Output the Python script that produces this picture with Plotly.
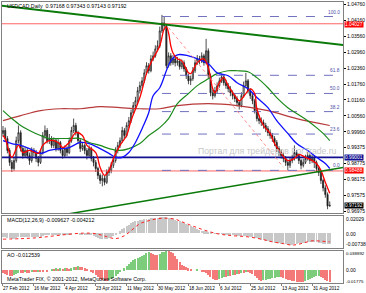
import plotly.graph_objects as go

# ---------------- data ----------------
date_labels = ["27 Feb 2012", "16 Mar 2012", "4 Apr 2012", "23 Apr 2012", "11 May 2012",
               "30 May 2012", "18 Jun 2012", "6 Jul 2012", "25 Jul 2012", "13 Aug 2012", "31 Aug 2012"]

closes = [1.0001,0.9971,0.9926,0.9881,0.9858,0.9888,0.9963,0.9993,0.9933,0.9907,
          0.9926,0.9907,0.9888,0.9926,0.9918,0.9896,0.9881,0.9918,0.9982,1.0001,
          0.9963,0.9971,0.9945,0.9963,0.9933,0.9956,0.9926,0.9907,0.9933,0.9918,
          0.9963,1.0001,1.0020,0.9993,0.9963,0.9933,0.9945,0.9926,0.9907,0.9933,
          0.9896,0.9881,0.9858,0.9832,0.9813,0.9821,0.9806,0.9843,0.9851,0.9870,
          0.9888,0.9926,0.9945,0.9963,1.0001,0.9982,1.0020,1.0038,1.0068,1.0095,
          1.0113,1.0151,1.0170,1.0188,1.0218,1.0245,1.0226,1.0271,1.0282,1.0308,
          1.0320,1.0376,1.0406,1.0395,1.0245,1.0282,1.0256,1.0271,1.0256,1.0263,
          1.0241,1.0256,1.0233,1.0207,1.0188,1.0196,1.0226,1.0256,1.0271,1.0263,
          1.0282,1.0256,1.0301,1.0207,1.0143,1.0132,1.0151,1.0170,1.0188,1.0203,
          1.0181,1.0170,1.0158,1.0143,1.0132,1.0121,1.0106,1.0095,1.0132,1.0170,
          1.0188,1.0151,1.0132,1.0113,1.0076,1.0046,1.0038,1.0031,1.0020,1.0008,
          0.9993,0.9982,0.9971,0.9956,0.9933,0.9918,0.9907,0.9896,0.9881,0.9870,
          0.9888,0.9896,0.9918,0.9907,0.9888,0.9870,0.9881,0.9896,0.9907,0.9888,
          0.9896,0.9881,0.9858,0.9843,0.9813,0.9785,0.9760,0.9717,0.97192]

opens = [0.9990,1.0001,0.9971,0.9926,0.9881,0.9858,0.9888,0.9963,0.9993,0.9933,
         0.9907,0.9926,0.9907,0.9888,0.9926,0.9918,0.9896,0.9881,0.9918,0.9982,
         1.0001,0.9963,0.9971,0.9945,0.9963,0.9933,0.9956,0.9926,0.9907,0.9933,
         0.9918,0.9963,1.0001,1.0020,0.9993,0.9963,0.9933,0.9945,0.9926,0.9907,
         0.9933,0.9896,0.9881,0.9858,0.9832,0.9813,0.9821,0.9806,0.9843,0.9851,
         0.9870,0.9888,0.9926,0.9945,0.9963,1.0001,0.9982,1.0020,1.0038,1.0068,
         1.0095,1.0113,1.0151,1.0170,1.0188,1.0218,1.0245,1.0226,1.0271,1.0282,
         1.0308,1.0320,1.0376,1.0406,1.0395,1.0245,1.0282,1.0256,1.0271,1.0256,
         1.0263,1.0241,1.0256,1.0233,1.0207,1.0188,1.0196,1.0226,1.0256,1.0271,
         1.0263,1.0282,1.0256,1.0301,1.0207,1.0143,1.0132,1.0151,1.0170,1.0188,
         1.0203,1.0181,1.0170,1.0158,1.0143,1.0132,1.0121,1.0106,1.0095,1.0132,
         1.0170,1.0188,1.0151,1.0132,1.0113,1.0076,1.0046,1.0038,1.0031,1.0020,
         1.0008,0.9993,0.9982,0.9971,0.9956,0.9933,0.9918,0.9907,0.9896,0.9881,
         0.9870,0.9888,0.9896,0.9918,0.9907,0.9888,0.9870,0.9881,0.9896,0.9907,
         0.9888,0.9896,0.9881,0.9858,0.9843,0.9813,0.9785,0.9760,0.97168]

highs = [1.0018,1.0012,0.9980,0.9935,0.9890,0.9900,0.9978,1.0020,1.0002,0.9945,
         0.9940,0.9935,0.9918,0.9938,0.9935,0.9928,0.9905,0.9930,0.9995,1.0020,
         1.0010,0.9988,0.9980,0.9975,0.9970,0.9968,0.9962,0.9935,0.9945,0.9942,
         0.9975,1.0015,1.0046,1.0030,1.0000,0.9970,0.9958,0.9952,0.9935,0.9945,
         0.9940,0.9905,0.9890,0.9865,0.9840,0.9835,0.9830,0.9855,0.9865,0.9882,
         0.9900,0.9938,0.9958,0.9975,1.0015,1.0010,1.0032,1.0052,1.0080,1.0108,
         1.0128,1.0165,1.0185,1.0202,1.0232,1.0258,1.0255,1.0285,1.0298,1.0322,
         1.0340,1.0392,1.0436,1.0428,1.0400,1.0295,1.0292,1.0285,1.0280,1.0278,
         1.0272,1.0268,1.0265,1.0240,1.0215,1.0208,1.0240,1.0268,1.0285,1.0282,
         1.0295,1.0290,1.0346,1.0310,1.0215,1.0155,1.0165,1.0182,1.0200,1.0215,
         1.0210,1.0192,1.0180,1.0168,1.0152,1.0142,1.0130,1.0115,1.0145,1.0185,
         1.0218,1.0195,1.0160,1.0140,1.0120,1.0085,1.0058,1.0050,1.0042,1.0030,
         1.0018,1.0005,0.9992,0.9980,0.9965,0.9942,0.9930,0.9918,0.9905,0.9892,
         0.9900,0.9910,0.9945,0.9928,0.9915,0.9895,0.9895,0.9910,0.9920,0.9915,
         0.9910,0.9907,0.9888,0.9865,0.9850,0.9820,0.9795,0.9768,0.97343]

lows = [0.9978,0.9958,0.9915,0.9868,0.9845,0.9850,0.9880,0.9952,0.9922,0.9895,
        0.9898,0.9895,0.9872,0.9880,0.9905,0.9882,0.9866,0.9875,0.9910,0.9970,
        0.9952,0.9950,0.9935,0.9935,0.9922,0.9925,0.9915,0.9895,0.9900,0.9905,
        0.9912,0.9955,0.9992,0.9982,0.9950,0.9920,0.9925,0.9912,0.9892,0.9898,
        0.9885,0.9866,0.9845,0.9818,0.9800,0.9791,0.9795,0.9800,0.9830,0.9840,
        0.9860,0.9880,0.9915,0.9935,0.9955,0.9970,0.9975,1.0010,1.0030,1.0060,
        1.0085,1.0105,1.0140,1.0160,1.0180,1.0210,1.0215,1.0220,1.0262,1.0275,
        1.0298,1.0312,1.0368,1.0380,1.0235,1.0238,1.0245,1.0248,1.0242,1.0245,
        1.0230,1.0232,1.0222,1.0195,1.0175,1.0172,1.0188,1.0218,1.0248,1.0250,
        1.0255,1.0245,1.0250,1.0198,1.0130,1.0118,1.0125,1.0142,1.0162,1.0180,
        1.0170,1.0158,1.0145,1.0130,1.0118,1.0108,1.0092,1.0080,1.0088,1.0125,
        1.0160,1.0140,1.0120,1.0100,1.0065,1.0035,1.0025,1.0018,1.0008,0.9995,
        0.9980,0.9970,0.9958,0.9942,0.9920,0.9905,0.9895,0.9882,0.9868,0.9852,
        0.9860,0.9878,0.9888,0.9895,0.9875,0.9855,0.9862,0.9875,0.9888,0.9875,
        0.9878,0.9860,0.9845,0.9830,0.9800,0.9772,0.9748,0.9705,0.97143]

# moving averages sampled along the drawn curves (bar index, price)
fast_ma_bar = [0,1,4,7,9,12,16,18,21,25,27,30,33,36,38,42,44,46,48,50,53,56,58,62,65,67,
               71,73,74,75,76,77,79,81,84,85,88,91,93,95,96,98,100,102,105,107,110,112,114,
               115,118,121,123,126,129,132,134,137,140,142,144,146,148]
fast_ma_val = [0.9982,0.9971,0.9900,0.9945,0.9918,0.9926,0.9915,0.9945,0.9963,0.9956,0.9937,
               0.9956,0.9993,0.9982,0.9945,0.9918,0.9862,0.9832,0.9851,0.9896,0.9945,0.9982,
               1.0038,1.0125,1.0215,1.0256,1.0320,1.0383,1.0391,1.0368,1.0320,1.0293,1.0271,
               1.0263,1.0218,1.0215,1.0256,1.0271,1.0237,1.0158,1.0143,1.0181,1.0200,1.0170,
               1.0132,1.0113,1.0140,1.0158,1.0140,1.0083,1.0020,0.9990,0.9952,0.9915,0.9888,
               0.9896,0.9911,0.9900,0.9888,0.9877,0.9851,0.9806,0.9765]

mid_ma_bar = [0,4,8,12,17,21,26,30,35,39,44,48,51,54,57,60,63,66,68,71,74,76,79,84,88,93,97,
              102,106,111,115,120,124,129,133,138,142,146,148]
mid_ma_val = [0.9963,0.9952,0.9945,0.9933,0.9915,0.9926,0.9933,0.9937,0.9956,0.9952,0.9933,
              0.9915,0.9900,0.9900,0.9918,0.9956,1.0008,1.0068,1.0132,1.0162,1.0226,1.0263,
              1.0286,1.0282,1.0271,1.0252,1.0218,1.0207,1.0181,1.0158,1.0125,1.0087,1.0038,
              0.9990,0.9952,0.9926,0.9900,0.9877,0.9858]

slow_ma_bar = [0,4,8,12,17,21,26,30,35,39,44,48,53,57,62,66,71,75,79,84,88,93,97,102,106,111,
               115,120,124,129,133,138,142,145,148]
slow_ma_val = [1.0076,1.0046,1.0020,1.0001,0.9982,0.9971,0.9971,0.9971,0.9971,0.9956,0.9945,
               0.9933,0.9926,0.9933,0.9952,0.9982,1.0012,1.0046,1.0102,1.0140,1.0170,1.0196,
               1.0215,1.0226,1.0226,1.0222,1.0200,1.0162,1.0125,1.0087,1.0065,1.0038,1.0012,
               0.9990,0.9963]

long_ma_bar = [0,8,17,26,35,44,53,62,71,79,93,106,120,133,148]
long_ma_val = [1.0038,1.0057,1.0076,1.0083,1.0083,1.0091,1.0087,1.0083,1.0083,1.0095,1.0102,
               1.0095,1.0076,1.0046,1.0020]

macd_main = [-0.0036,-0.0036,-0.0045,-0.0045,-0.0054,-0.0054,-0.0045,-0.0036,-0.0036,-0.0036,
             -0.0036,-0.0036,-0.0036,-0.0036,-0.0036,-0.0036,-0.0036,-0.0036,-0.0027,-0.0018,
             -0.0018,-0.0018,-0.0018,-0.0018,-0.0018,-0.0018,-0.0018,-0.0018,-0.0018,-0.0018,
             -0.0009,-0.0009,0.0,0.0,0.0,-0.0009,-0.0009,-0.0009,-0.0009,-0.0018,
             -0.0018,-0.0027,-0.0036,-0.0045,-0.0054,-0.0054,-0.0054,-0.0054,-0.0045,-0.0036,
             -0.0027,-0.00135,0.0,0.0018,0.0036,0.00495,0.0063,0.00765,0.009,0.0099,
             0.0108,0.01125,0.0117,0.01215,0.0126,0.01305,0.01305,0.0135,0.0135,0.01395,
             0.01395,0.0144,0.0144,0.0144,0.0144,0.01395,0.0135,0.0126,0.0117,0.01125,
             0.0108,0.01035,0.00945,0.00855,0.00765,0.00675,0.00585,0.00495,0.00405,0.00315,
             0.00225,0.0018,0.0018,0.00135,0.00045,0.0,-0.00045,-0.00045,-0.00045,-0.00045,
             -0.0009,-0.0009,-0.00135,-0.00135,-0.0018,-0.0018,-0.00225,-0.0027,-0.0027,-0.0027,
             -0.0027,-0.0027,-0.00315,-0.0036,-0.00405,-0.0045,-0.00495,-0.00585,-0.0063,-0.00675,
             -0.0072,-0.00765,-0.0081,-0.00855,-0.009,-0.009,-0.00945,-0.0099,-0.0099,-0.01035,
             -0.01035,-0.01035,-0.0099,-0.00945,-0.009,-0.009,-0.00855,-0.00855,-0.0081,-0.0081,
             -0.0081,-0.0081,-0.0081,-0.00855,-0.009,-0.00945,-0.0099,-0.0099,-0.009627]

macd_signal_bar = [0,8,16,26,36,42,47,51,55,58,62,66,70,74,78,81,88,97,104,111,117,122,127,
                   131,135,140,144,148]
macd_signal_val = [-0.00495,-0.0045,-0.0036,-0.00135,0.00045,0.0,-0.0027,-0.0045,-0.0018,
                   0.0027,0.009,0.0117,0.0135,0.01395,0.01305,0.0108,0.0054,0.0,-0.0018,
                   -0.00288,-0.00495,-0.00738,-0.009,-0.01035,-0.009,-0.00648,-0.00675,-0.00738]

ao_values = [-0.00315,-0.0042,-0.00525,-0.0063,-0.0063,-0.00525,-0.0042,-0.00315,
             -0.00315,-0.00315,-0.0021,-0.00315,-0.00315,-0.0021,-0.0021,
             -0.0021,-0.00105,-0.00105,-0.00105,0.0,-0.00105,0.0,0.00105,
             0.00105,0.0021,0.00105,0.0021,0.00105,0.0021,0.0021,0.00105,0.0021,
             0.00315,0.00315,0.0042,0.00315,0.00315,0.0021,
             0.00105,0.0,-0.00105,-0.00315,-0.00525,-0.00735,
             -0.00945,-0.0105,-0.01155,-0.01155,-0.0105,-0.00945,-0.0084,
             -0.0063,-0.0042,-0.0021,0.0,0.0021,0.0042,
             0.0063,0.0084,0.0105,0.01155,0.0126,0.01365,0.0147,0.01575,
             0.01785,0.0189,0.01785,0.0168,0.01575,0.01575,0.0168,
             0.0189,0.01995,0.0205,0.0205,0.01995,
             0.01785,0.0147,0.01155,0.0084,0.00525,
             0.0042,0.00315,0.0021,0.00105,0.0,
             0.0,0.00105,0.0,-0.00105,-0.0021,-0.00315,
             -0.00525,-0.00735,-0.00945,-0.0105,-0.0105,-0.00945,-0.0084,-0.00735,
             -0.00735,-0.0063,-0.0063,-0.00525,-0.00525,-0.0042,-0.0042,-0.00315,-0.00315,-0.0021,-0.0021,-0.00315,
             -0.0042,-0.0063,-0.0084,-0.0105,-0.01155,
             -0.011,-0.0105,-0.01,-0.00945,-0.0089,-0.0084,-0.0079,-0.00735,
             -0.0079,-0.0084,-0.00945,-0.0105,-0.011,-0.01155,-0.0121,-0.0126,-0.0128,-0.013,-0.0131,
             -0.01155,-0.0105,-0.00945,-0.0084,-0.00735,-0.0063,-0.0058,
             -0.00735,-0.0089,-0.0105,-0.01155,-0.012539]

price_ticks = [1.04760, 1.04160, 1.03560, 1.02960, 1.02360, 1.01760, 1.01160, 1.00560,
               0.99960, 0.99375, 0.98775, 0.98175, 0.97575, 0.96975]
price_tick_text = ["1.04760", "1.04160", "1.03560", "1.02960", "1.02360", "1.01760", "1.01160",
                   "1.00560", "0.99960", "0.99375", "0.98775", "0.98175", "0.97575", "0.96975"]

resist_line = 1.04027
support_line = 0.99001
lower_line = 0.98488
last_price = 0.97192
fib_high = 1.0430
fib_low = 0.9851
fib_ratios = [1.0, 0.618, 0.5, 0.382, 0.236, 0.0]
fib_labels = ["100.0", "61.8", "50.0", "38.2", "23.6", "0.0"]
fib_bars = [72, 151]
trend_upper_bars, trend_upper_vals = [-1, 155], [1.0471, 1.0322]
trend_lower_bars, trend_lower_vals = [28, 155], [0.9685, 0.9863]
trend_dot_bars, trend_dot_vals = [75, 127], [1.0388, 0.9863]

macd_axis_labels = ["0.02029", "0.00", "-0.00738"]
ao_axis_labels = ["0.038892", "0.00", "-0.01775"]

# ---------------- figure ----------------
FONT = "Liberation Sans, Arial, sans-serif"
n = len(closes)
bars = list(range(n))
xr = [-0.45, 154.0]

fig = go.Figure()

# horizontal levels
fig.add_trace(go.Scatter(x=xr, y=[resist_line] * 2, mode="lines",
                         line=dict(color="#ff3b3b", width=0.8), hoverinfo="skip"))
fig.add_trace(go.Scatter(x=xr, y=[lower_line] * 2, mode="lines",
                         line=dict(color="#ff3b3b", width=0.8), hoverinfo="skip"))
fig.add_trace(go.Scatter(x=xr, y=[support_line] * 2, mode="lines",
                         line=dict(color="#101090", width=1.8), hoverinfo="skip"))

# fibonacci levels
for r in fib_ratios:
    lv = fib_low + r * (fib_high - fib_low)
    fig.add_trace(go.Scatter(x=fib_bars, y=[lv, lv], mode="lines",
                             line=dict(color="#7070c0", width=1, dash="dash"), hoverinfo="skip"))

# moving averages
fig.add_trace(go.Scatter(x=long_ma_bar, y=long_ma_val, mode="lines", line_shape="spline",
                         line=dict(color="#b83a3a", width=1.2)))
fig.add_trace(go.Scatter(x=slow_ma_bar, y=slow_ma_val, mode="lines", line_shape="spline",
                         line=dict(color="#1a8a1a", width=1.2)))

# candles
fig.add_trace(go.Candlestick(x=bars, open=opens, high=highs, low=lows, close=closes,
                             increasing=dict(fillcolor="#ffffff", line=dict(color="#202020", width=0.8)),
                             decreasing=dict(fillcolor="#202020", line=dict(color="#202020", width=0.8)),
                             whiskerwidth=0, showlegend=False))

fig.add_trace(go.Scatter(x=mid_ma_bar, y=mid_ma_val, mode="lines", line_shape="spline",
                         line=dict(color="#1010ff", width=1.3)))
fig.add_trace(go.Scatter(x=fast_ma_bar, y=fast_ma_val, mode="lines", line_shape="spline",
                         line=dict(color="#ff0000", width=1.3)))

# trend lines
fig.add_trace(go.Scatter(x=trend_upper_bars, y=trend_upper_vals, mode="lines",
                         line=dict(color="#0a7a0a", width=2)))
fig.add_trace(go.Scatter(x=trend_lower_bars, y=trend_lower_vals, mode="lines",
                         line=dict(color="#0a7a0a", width=1.6)))
fig.add_trace(go.Scatter(x=trend_dot_bars, y=trend_dot_vals, mode="lines",
                         line=dict(color="#ff8a8a", width=1, dash="dot")))

# MACD
fig.add_trace(go.Bar(x=bars, y=macd_main, marker_color="#c8c8c8", marker_line_width=0,
                     width=0.45, xaxis="x2", yaxis="y2"))
fig.add_trace(go.Scatter(x=macd_signal_bar, y=macd_signal_val, mode="lines", line_shape="spline",
                         line=dict(color="#ff2020", width=1, dash="dot"), xaxis="x2", yaxis="y2"))

# AO
ao_colors = ["#7ccc7c" if (i > 0 and ao_values[i] > ao_values[i - 1]) else "#f47a7a"
             for i in range(n)]
fig.add_trace(go.Bar(x=bars, y=ao_values, marker_color=ao_colors, marker_line_width=0,
                     width=0.5, xaxis="x3", yaxis="y3"))

# ---------------- layout ----------------
W, H = 366, 293
ml, mr, mt, mb = 1, 19, 1, 10
ph = H - mt - mb


def py(px):
    return (H - mb - px) / ph


axis_line = dict(showline=True, linecolor="#808080", linewidth=1, mirror=True,
                 showgrid=False, zeroline=False)

fig.update_layout(
    width=W, height=H, margin=dict(l=ml, r=mr, t=mt, b=mb),
    paper_bgcolor="white", plot_bgcolor="white", showlegend=False,
    bargap=0,
    font=dict(family=FONT, size=6, color="black"),
    xaxis=dict(range=xr, domain=[0, 1], anchor="y", showticklabels=False,
               rangeslider=dict(visible=False), **axis_line),
    xaxis2=dict(range=xr, domain=[0, 1], anchor="y2", showticklabels=False, matches="x", **axis_line),
    xaxis3=dict(range=xr, domain=[0, 1], anchor="y3", showticklabels=False, matches="x",
                ticks="outside", ticklen=2, tickcolor="#808080",
                tickvals=list(range(0, n, 14)), **axis_line),
    yaxis=dict(domain=[py(213), py(1)], range=[0.968965, 1.048465], side="right", anchor="x",
               tickvals=price_ticks, ticktext=price_tick_text, ticks="outside", ticklen=2,
               tickcolor="black", tickfont=dict(size=5, family=FONT), **axis_line),
    yaxis2=dict(domain=[py(248), py(216)], range=[-0.01305, 0.01575], side="right", anchor="x2",
                showticklabels=False, **axis_line),
    yaxis3=dict(domain=[py(283), py(251)], range=[-0.0137, 0.0205], side="right", anchor="x3",
                showticklabels=False, **axis_line),
)

ann = []
ann.append(dict(text="USDCAD,Daily  0.97168 0.97343 0.97143 0.97192", xref="paper", yref="paper",
                x=0.008, y=py(5), xanchor="left", yanchor="middle", showarrow=False,
                font=dict(size=5.3, family=FONT)))
ann.append(dict(text="MACD(12,26,9) -0.009627 -0.004212", xref="paper", yref="paper",
                x=0.008, y=py(220), xanchor="left", yanchor="middle", showarrow=False,
                font=dict(size=5.3, family=FONT)))
ann.append(dict(text="AO -0.012539", xref="paper", yref="paper",
                x=0.008, y=py(255), xanchor="left", yanchor="middle", showarrow=False,
                font=dict(size=5.3, family=FONT)))
ann.append(dict(text="MetaTrader FIX, \u00a9 2001-2012, MetaQuotes Software Corp.", xref="paper",
                yref="paper", x=0.008, y=py(279), xanchor="left", yanchor="middle", showarrow=False,
                font=dict(size=5.3, family=FONT)))
# watermark
ann.append(dict(text="Портал для трейдеров ForTrade.ru", xref="paper", yref="paper",
                x=0.988, y=py(151), xanchor="right", yanchor="middle", showarrow=False,
                font=dict(size=8.6, family=FONT, color="#c8c8c8")))
# fib labels
for r, lab in zip(fib_ratios, fib_labels):
    lv = fib_low + r * (fib_high - fib_low)
    ann.append(dict(text=lab, xref="paper", yref="y", x=0.998, y=lv, xanchor="right",
                    yanchor="bottom", showarrow=False, font=dict(size=4.8, family=FONT, color="#5050a8")))
# price badges
for val, bg in [(resist_line, "#ff0000"), (support_line, "#101090"), (lower_line, "#ff0000"),
                (last_price, "#000000")]:
    ann.append(dict(text=f"{val:.5f}", xref="paper", yref="y", x=1.0, y=val, xanchor="left",
                    yanchor="middle", xshift=1, yshift=-1 if val == resist_line else 0,
                    showarrow=False, bgcolor=bg, borderpad=0,
                    font=dict(size=4.8, family=FONT, color="white")))
# sub-window scale labels
for lab, px in zip(macd_axis_labels, [219, 233.5, 243.5]):
    ann.append(dict(text=lab, xref="paper", yref="paper", x=1.0, y=py(px), xanchor="left",
                    yanchor="middle", xshift=1, showarrow=False, font=dict(size=5, family=FONT)))
for lab, px in zip(ao_axis_labels, [253, 270, 281]):
    ann.append(dict(text=lab, xref="paper", yref="paper", x=1.0, y=py(px), xanchor="left",
                    yanchor="middle", xshift=1, showarrow=False,
                    font=dict(size=4.4 if len(lab) > 7 else 5, family=FONT)))
# date labels
for k, lab in enumerate(date_labels):
    ann.append(dict(text=lab, xref="x3", yref="paper", x=14 * k, y=py(289), xanchor="left",
                    yanchor="middle", xshift=-1.5, showarrow=False, font=dict(size=4.7, family=FONT)))

fig.update_layout(annotations=ann)
fig.write_html("out.html")
